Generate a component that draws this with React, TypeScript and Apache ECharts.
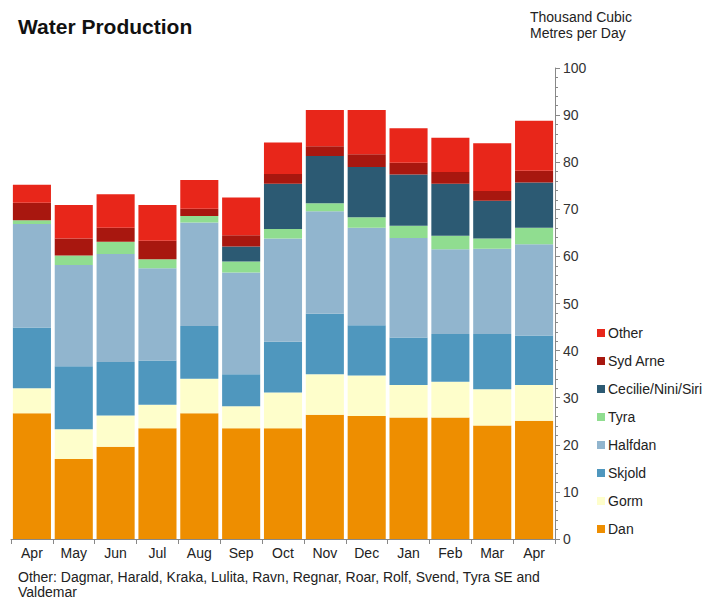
import React, { useEffect, useRef } from "react";
import * as echarts from "echarts";

const months = ["Apr", "May", "Jun", "Jul", "Aug", "Sep", "Oct", "Nov", "Dec", "Jan", "Feb", "Mar", "Apr"];
const dan = [26.7, 17.0, 19.6, 23.5, 26.7, 23.5, 23.5, 26.4, 26.1, 25.8, 25.8, 24.1, 25.1];
const gorm = [5.3, 6.3, 6.6, 5.0, 7.3, 4.7, 7.6, 8.6, 8.6, 6.9, 7.6, 7.7, 7.6];
const skjold = [12.9, 13.4, 11.4, 9.4, 11.2, 6.8, 10.8, 12.8, 10.7, 10.1, 10.1, 11.7, 10.5];
const halfdan = [22.0, 21.5, 22.9, 19.6, 22.0, 21.6, 21.9, 21.8, 20.7, 21.1, 18.0, 18.1, 19.4];
const tyra = [0.8, 2.0, 2.6, 1.9, 1.4, 2.3, 2.0, 1.7, 2.2, 2.6, 2.9, 2.2, 3.5];
const cecilie = [0, 0, 0, 0, 0, 3.2, 9.6, 10.0, 10.7, 10.9, 11.0, 8.0, 9.6];
const sydArne = [3.7, 3.6, 3.0, 3.9, 1.5, 2.4, 2.1, 2.1, 2.7, 2.5, 2.5, 2.1, 2.5];
const other = [3.8, 7.1, 7.1, 7.6, 6.1, 8.0, 6.7, 7.7, 9.4, 7.3, 7.3, 10.1, 10.6];

const seriesDefs = [
  { name: "Dan", data: dan, color: "#EE8E00" },
  { name: "Gorm", data: gorm, color: "#FEFECB" },
  { name: "Skjold", data: skjold, color: "#4F97BE" },
  { name: "Halfdan", data: halfdan, color: "#91B5CE" },
  { name: "Tyra", data: tyra, color: "#90DD90" },
  { name: "Cecilie/Nini/Siri", data: cecilie, color: "#2C5A73" },
  { name: "Syd Arne", data: sydArne, color: "#A8170F" },
  { name: "Other", data: other, color: "#E8261A" },
];

const legendOrder = ["Other", "Syd Arne", "Cecilie/Nini/Siri", "Tyra", "Halfdan", "Skjold", "Gorm", "Dan"];

const FONT = "Liberation Sans, Arial, sans-serif";

export default function App() {
  const ref = useRef<HTMLDivElement>(null);
  useEffect(() => {
    if (!ref.current) return;
    const chart = echarts.init(ref.current, null, { renderer: "svg" });
    chart.setOption({
      animation: false,
      backgroundColor: "#ffffff",
      textStyle: { fontFamily: FONT },
      title: {
        text: "Water Production",
        left: 13,
        top: 11,
        textStyle: { fontSize: 21, fontWeight: "bold", color: "#111", fontFamily: FONT },
      },
      graphic: [
        {
          type: "text",
          left: 530,
          top: 9,
          style: {
            text: "Thousand Cubic\nMetres per Day",
            fontSize: 14,
            lineHeight: 16,
            fill: "#222",
            fontFamily: FONT,
          },
        },
        {
          type: "text",
          left: 18,
          top: 569,
          style: {
            text: "Other: Dagmar, Harald, Kraka, Lulita, Ravn, Regnar, Roar, Rolf, Svend, Tyra SE and\nValdemar",
            fontSize: 14,
            lineHeight: 15,
            fill: "#222",
            fontFamily: FONT,
          },
        },
      ],
      legend: {
        orient: "vertical",
        left: 592,
        top: 321,
        itemWidth: 8,
        itemHeight: 8,
        itemGap: 14,
        icon: "rect",
        data: legendOrder,
        textStyle: { fontSize: 14, color: "#222", fontFamily: FONT, padding: [0, 0, 0, -2] },
        selectedMode: false,
      },
      grid: { left: 11, right: 148, top: 68, bottom: 61 },
      xAxis: {
        type: "category",
        data: months,
        axisLine: { lineStyle: { color: "#888" } },
        axisTick: { show: true, length: 5, lineStyle: { color: "#888" } },
        axisLabel: { color: "#222", fontSize: 14, margin: 7, fontFamily: FONT },
      },
      yAxis: {
        type: "value",
        position: "right",
        min: 0,
        max: 100,
        interval: 10,
        axisLine: { show: true, lineStyle: { color: "#888" } },
        axisTick: { show: true, length: 5, lineStyle: { color: "#888" } },
        minorTick: { show: true, splitNumber: 5, length: 3, lineStyle: { color: "#888" } },
        splitLine: { show: false },
        axisLabel: { color: "#333", fontSize: 14, margin: 8, fontFamily: FONT },
      },
      series: seriesDefs.map((s) => ({
        name: s.name,
        type: "bar",
        stack: "total",
        data: s.data,
        barCategoryGap: "9%",
        itemStyle: { color: s.color },
      })),
    });
    return () => chart.dispose();
  }, []);
  return (
    <div
      ref={ref}
      style={{ position: "absolute", left: 0, top: 0, width: 703, height: 600 }}
    />
  );
}
